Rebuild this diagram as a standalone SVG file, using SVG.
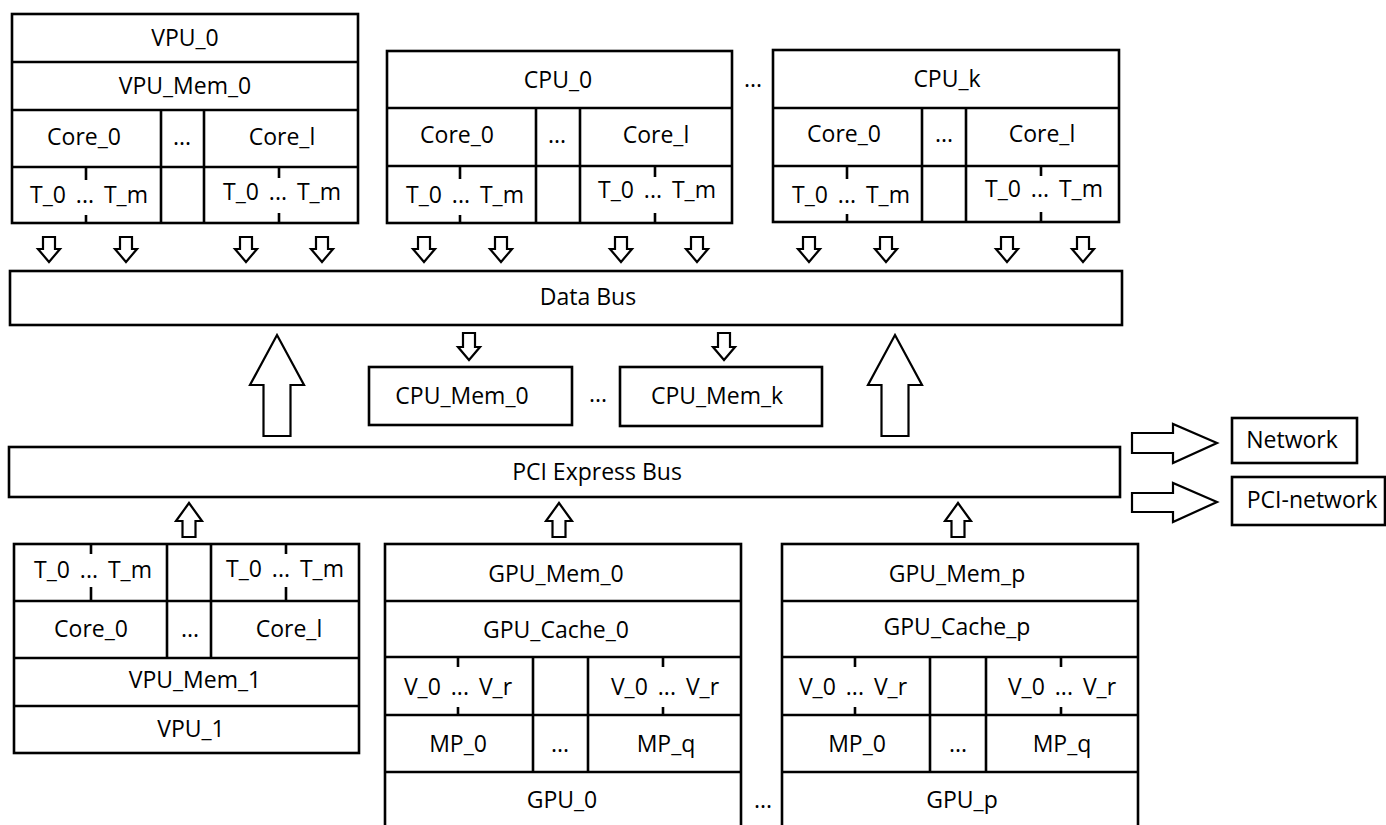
<svg xmlns="http://www.w3.org/2000/svg" xmlns:xlink="http://www.w3.org/1999/xlink" width="1386" height="825" viewBox="0 0 1386 825">
<style>
  .box{fill:#fff;stroke:#000;stroke-width:2.6}
  .ln{stroke:#000;stroke-width:2.6;fill:none}
  .t{font-family:"Open Sans","Liberation Sans",sans-serif;font-size:23px;fill:#000;text-anchor:middle}
  .tt{word-spacing:4px}
  .arr{fill:#fff;stroke:#000;stroke-width:2.2;stroke-linejoin:miter}
</style>
<defs>
  <path id="dn" d="M-6,0 H6 V12 H11 L0,25 L-11,12 H-6 Z"/>
  <path id="dn2" d="M-6,0 H6 V14 H11 L0,27 L-11,14 H-6 Z"/>
  <path id="up" d="M0,0 L13,18 H6.5 V34 H-6.5 V18 H-13 Z"/>
  <path id="bigup" d="M0,0 L27,50 H13.5 V101 H-13.5 V50 H-27 Z"/>
</defs>
<rect width="1386" height="825" fill="#fff"/>

<g id="vpu0">
  <rect class="box" x="12" y="14" width="346" height="209"/>
  <path class="ln" d="M12,62 H358 M12,110 H358 M12,167 H358 M161,110 V223 M204,110 V223 M86,167 V180 M86,215 V223 M279,167 V178 M279,213 V223"/>
  <text class="t" x="185" y="46">VPU_0</text>
  <text class="t" x="185" y="94">VPU_Mem_0</text>
  <text class="t" x="84" y="145">Core_0</text>
  <text class="t" x="182" y="145">...</text>
  <text class="t" x="282" y="145">Core_l</text>
  <text class="t tt" x="89" y="203">T_0 ... T_m</text>
  <text class="t tt" x="282" y="200">T_0 ... T_m</text>
</g>

<g id="cpu0">
  <rect class="box" x="387" y="51" width="345" height="172"/>
  <path class="ln" d="M387,108 H732 M387,166 H732 M536,108 V223 M580,108 V223 M460,166 V179 M460,215 V223 M655,166 V177 M655,213 V223"/>
  <text class="t" x="558" y="88">CPU_0</text>
  <text class="t" x="457" y="143">Core_0</text>
  <text class="t" x="557" y="143">...</text>
  <text class="t" x="656" y="143">Core_l</text>
  <text class="t tt" x="465" y="203">T_0 ... T_m</text>
  <text class="t tt" x="657" y="198">T_0 ... T_m</text>
</g>

<text class="t" x="753" y="87">...</text>

<g id="cpuk">
  <rect class="box" x="773" y="50" width="346" height="172"/>
  <path class="ln" d="M773,108 H1119 M773,166 H1119 M922,108 V222 M966,108 V222 M847,166 V179 M847,214 V222 M1041,166 V176 M1041,212 V222"/>
  <text class="t" x="947" y="87">CPU_k</text>
  <text class="t" x="844" y="142">Core_0</text>
  <text class="t" x="944" y="142">...</text>
  <text class="t" x="1042" y="142">Core_l</text>
  <text class="t tt" x="851" y="203">T_0 ... T_m</text>
  <text class="t tt" x="1044" y="197">T_0 ... T_m</text>
</g>

<g id="databus">
  <rect class="box" x="10" y="271" width="1112" height="54"/>
  <text class="t" x="588" y="305">Data Bus</text>
</g>

<g id="cpumem0">
  <rect class="box" x="369" y="367" width="203" height="58"/>
  <text class="t" x="462" y="404">CPU_Mem_0</text>
</g>
<text class="t" x="598" y="402">...</text>
<g id="cpumemk">
  <rect class="box" x="620" y="367" width="202" height="59"/>
  <text class="t" x="717" y="404">CPU_Mem_k</text>
</g>

<g id="pcibus">
  <rect class="box" x="9" y="447" width="1111" height="50"/>
  <text class="t" x="597" y="480">PCI Express Bus</text>
</g>

<g id="network">
  <rect class="box" x="1232" y="418" width="125" height="45"/>
  <text class="t" x="1292" y="448">Network</text>
</g>
<g id="pcinetwork">
  <rect class="box" x="1232" y="477" width="153" height="48"/>
  <text class="t" x="1312" y="508">PCI-network</text>
</g>

<g id="vpu1">
  <rect class="box" x="14" y="544" width="345" height="209"/>
  <path class="ln" d="M14,601 H359 M14,658 H359 M14,706 H359 M167,544 V658 M211,544 V658 M91,544 V554 M91,587 V601 M286,544 V554 M286,587 V601"/>
  <text class="t tt" x="93" y="578">T_0 ... T_m</text>
  <text class="t tt" x="285" y="577">T_0 ... T_m</text>
  <text class="t" x="91" y="637">Core_0</text>
  <text class="t" x="190" y="637">...</text>
  <text class="t" x="289" y="637">Core_l</text>
  <text class="t" x="195" y="688">VPU_Mem_1</text>
  <text class="t" x="191" y="737">VPU_1</text>
</g>

<g id="gpu0">
  <rect class="box" x="385" y="544" width="356" height="290"/>
  <path class="ln" d="M385,601 H741 M385,657 H741 M385,715 H741 M385,772 H741 M533,657 V772 M588,657 V772 M458,657 V667 M458,707 V715 M663,657 V667 M663,707 V715"/>
  <text class="t" x="556" y="582">GPU_Mem_0</text>
  <text class="t" x="556" y="638">GPU_Cache_0</text>
  <text class="t tt" x="458" y="695">V_0 ... V_r</text>
  <text class="t tt" x="665" y="695">V_0 ... V_r</text>
  <text class="t" x="458" y="752">MP_0</text>
  <text class="t" x="560" y="752">...</text>
  <text class="t" x="666" y="752">MP_q</text>
  <text class="t" x="562" y="808">GPU_0</text>
</g>

<text class="t" x="763" y="808">...</text>

<g id="gpup">
  <rect class="box" x="782" y="544" width="356" height="290"/>
  <path class="ln" d="M782,601 H1138 M782,657 H1138 M782,715 H1138 M782,772 H1138 M930,657 V772 M986,657 V772 M855,657 V667 M855,707 V715 M1061,657 V667 M1061,707 V715"/>
  <text class="t" x="957" y="582">GPU_Mem_p</text>
  <text class="t" x="957" y="635">GPU_Cache_p</text>
  <text class="t tt" x="853" y="695">V_0 ... V_r</text>
  <text class="t tt" x="1062" y="695">V_0 ... V_r</text>
  <text class="t" x="857" y="752">MP_0</text>
  <text class="t" x="958" y="752">...</text>
  <text class="t" x="1062" y="752">MP_q</text>
  <text class="t" x="962" y="808">GPU_p</text>
</g>

<g id="connectors">
  <use href="#dn" class="arr" x="49" y="237"/>
  <use href="#dn" class="arr" x="126" y="237"/>
  <use href="#dn" class="arr" x="246" y="237"/>
  <use href="#dn" class="arr" x="322" y="237"/>
  <use href="#dn" class="arr" x="424" y="237"/>
  <use href="#dn" class="arr" x="501" y="237"/>
  <use href="#dn" class="arr" x="621" y="237"/>
  <use href="#dn" class="arr" x="697" y="237"/>
  <use href="#dn" class="arr" x="809" y="237"/>
  <use href="#dn" class="arr" x="886" y="237"/>
  <use href="#dn" class="arr" x="1007" y="237"/>
  <use href="#dn" class="arr" x="1083" y="237"/>
  <use href="#dn2" class="arr" x="469" y="333"/>
  <use href="#dn2" class="arr" x="724" y="333"/>
  <use href="#bigup" class="arr" x="277" y="335"/>
  <use href="#bigup" class="arr" x="895" y="335"/>
  <use href="#up" class="arr" x="189" y="503"/>
  <use href="#up" class="arr" x="559" y="503"/>
  <use href="#up" class="arr" x="958" y="503"/>
  <polygon class="arr" points="1132,433 1173,433 1173,424 1217,443 1173,463 1173,453 1132,453"/>
  <polygon class="arr" points="1132,493 1173,493 1173,483 1217,502 1173,522 1173,512 1132,512"/>
</g>
</svg>
